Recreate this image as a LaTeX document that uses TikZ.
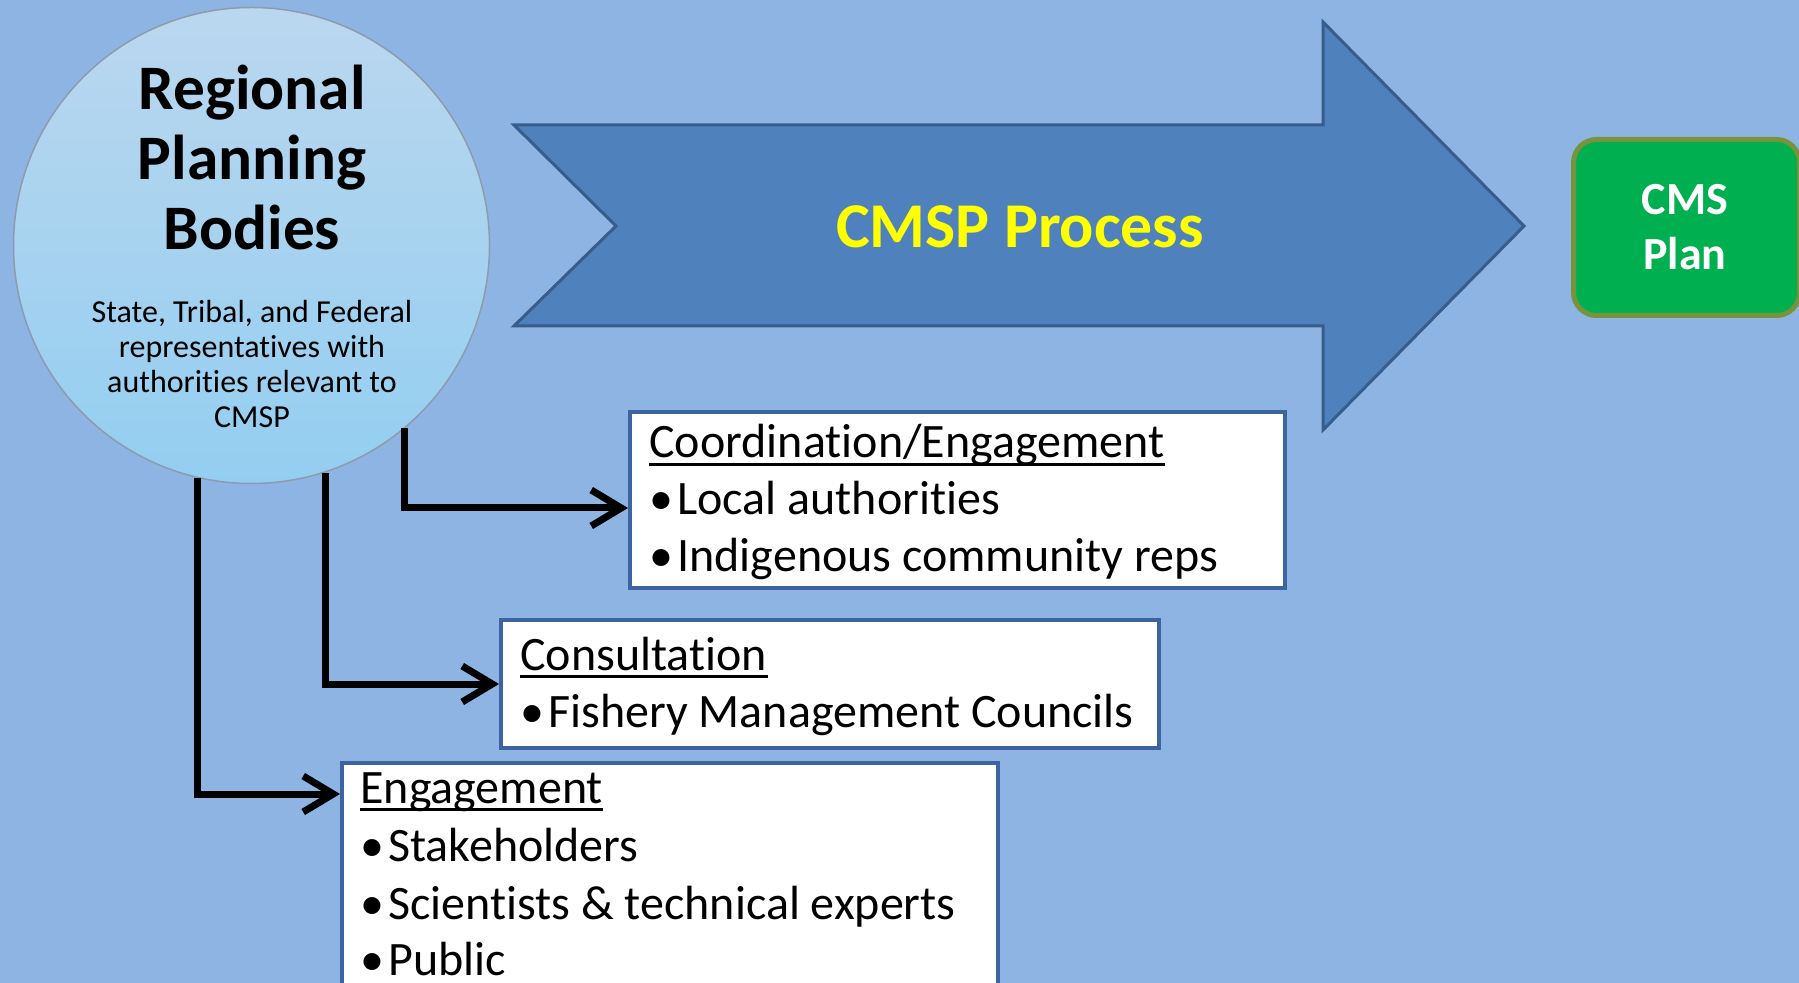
\documentclass[tikz,border=0pt]{standalone}
\usepackage{fontspec}
\setmainfont{Carlito}[Ligatures={NoCommon}]
\usetikzlibrary{arrows.meta}
\definecolor{bg}{HTML}{8EB4E3}
\definecolor{arrowfill}{HTML}{4F81BD}
\definecolor{arrowline}{HTML}{385D8A}
\definecolor{boxline}{HTML}{3B64A0}
\definecolor{planfill}{HTML}{00B050}
\definecolor{planline}{HTML}{77933C}
\definecolor{circtop}{HTML}{BBD7EF}
\definecolor{circbot}{HTML}{93CEF0}
\definecolor{circline}{HTML}{8C9CAC}
\definecolor{procyellow}{HTML}{FFFF00}
\begin{document}
\begin{tikzpicture}[x=0.5pt,y=-0.5pt,
  boxstyle/.style={draw=boxline, line width=2pt, fill=white, rectangle, anchor=north west, inner sep=0pt},
  boxtext/.style={anchor=base west, inner sep=0pt, font=\fontsize{24pt}{28.5pt}\selectfont},
  titletext/.style={anchor=base, inner sep=0pt, font=\fontsize{31.7pt}{35pt}\selectfont\bfseries},
  smalltext/.style={anchor=base, inner sep=0pt, font=\fontsize{16pt}{17.5pt}\selectfont},
  plantext/.style={anchor=base, inner sep=0pt, text=white, font=\fontsize{23pt}{28.5pt}\selectfont\bfseries},
  uline/.style={line width=1.6pt},
  conn/.style={line width=3.5pt, -{Straight Barb[length=15pt,width=18pt]}},
]
\fill[bg] (0,0) rectangle (1799,983);
\clip (0,0) rectangle (1799,983);

% process arrow
\draw[draw=arrowline, fill=arrowfill, line width=1.5pt, line join=miter]
  (514,125) -- (1323,125) -- (1323,22) -- (1524,226) -- (1323,430) -- (1323,326) -- (514,326) -- (616,226) -- cycle;
\node[anchor=base, inner sep=0pt, text=procyellow, font=\fontsize{31.9pt}{35pt}\selectfont\bfseries] (proc) at (1020,248) {CMSP Process};

% plan box
\node[rounded corners=11.5pt, draw=planline, fill=planfill, line width=2.5pt, minimum width=113pt, minimum height=88pt, anchor=north west, inner sep=0pt] (plan) at (1571,137) {};
\node[plantext] (plan1) at (1685,215) {CMS};
\node[plantext] (plan2) at (1685,270) {Plan};

% circle
\node[circle, draw=circline, line width=0.75pt, top color=circtop, bottom color=circbot, minimum size=238pt, inner sep=0pt] (rpb) at (251.5,245.5) {};
\node[titletext] (t1) at (252,110) {Regional};
\node[titletext] (t2) at (252,180) {Planning};
\node[titletext] (t3) at (252,250) {Bodies};
\node[smalltext] (s1) at (252,323) {State, Tribal, and Federal};
\node[smalltext] (s2) at (252,358) {representatives with};
\node[smalltext] (s3) at (252,393) {authorities relevant to};
\node[smalltext] (s4) at (252,428) {CMSP};

% boxes
\node[boxstyle, minimum width=327.5pt, minimum height=88pt] (b1) at (628,410) {};
\node[boxstyle, minimum width=329pt, minimum height=64pt] (b2) at (499,618) {};
\node[boxstyle, minimum width=328pt, minimum height=130pt] (b3) at (340,761) {};

\node[boxtext] (h1) at (649,458) {Coordination/Engagement};
\draw[uline] ([yshift=-3.2pt]h1.base west) -- ([yshift=-3.2pt]h1.base east);
\node[boxtext] (l11) at (649,515) {\makebox[14pt][l]{•}Local authorities};
\node[boxtext] (l12) at (649,572) {\makebox[14pt][l]{•}Indigenous community reps};

\node[boxtext] (h2) at (520,670) {Consultation};
\draw[uline] ([yshift=-3.2pt]h2.base west) -- ([yshift=-3.2pt]h2.base east);
\node[boxtext] (l21) at (520,727) {\makebox[14pt][l]{•}Fishery Management Councils};

\node[boxtext] (h3) at (360,803) {Engagement};
\draw[uline] ([yshift=-3.2pt]h3.base west) -- ([yshift=-3.2pt]h3.base east);
\node[boxtext] (l31) at (360,861) {\makebox[14pt][l]{•}Stakeholders};
\node[boxtext] (l32) at (360,919) {\makebox[14pt][l]{•}Scientists \& technical experts};
\node[boxtext] (l33) at (360,975) {\makebox[14pt][l]{•}Public};

% connectors
\draw[conn] (rpb.-50.5) |- ([yshift=-4pt]b1.west);
\draw[conn] (rpb.-72.5) |- (b2.west);
\draw[conn] (rpb.-103.5) |- ([yshift=-16.5pt]b3.north west);
\end{tikzpicture}
\end{document}
